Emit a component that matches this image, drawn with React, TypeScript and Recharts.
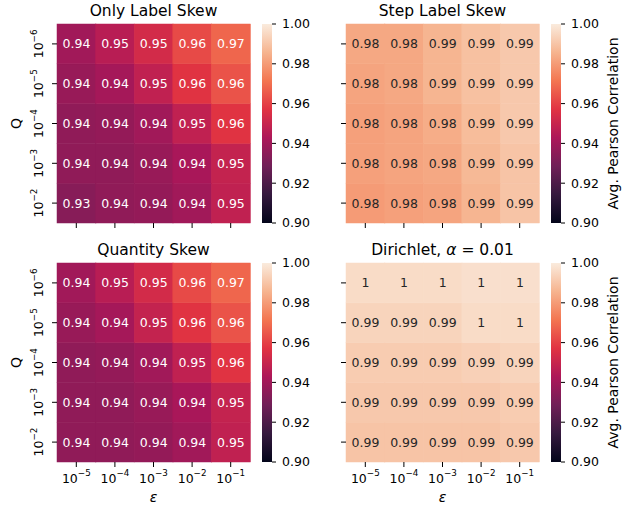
import { BarChart, Bar, XAxis, YAxis } from 'recharts'

// exponents of the axis ticks
const qExps = [-6, -5, -4, -3, -2]
const epsExps = [-5, -4, -3, -2, -1]
const cbTicks = [0.9, 0.92, 0.94, 0.96, 0.98, 1.0]

// rows: Q = 1e-6 ... 1e-2, cols: eps = 1e-5 ... 1e-1
const onlyLabelSkew = [
  [0.94, 0.946, 0.953, 0.962, 0.968],
  [0.938, 0.941, 0.948, 0.957, 0.964],
  [0.936, 0.937, 0.94, 0.948, 0.957],
  [0.936, 0.936, 0.938, 0.942, 0.949],
  [0.934, 0.936, 0.937, 0.94, 0.948],
]
const stepLabelSkew = [
  [0.983, 0.983, 0.986, 0.989, 0.991],
  [0.982, 0.983, 0.986, 0.989, 0.991],
  [0.981, 0.982, 0.984, 0.988, 0.991],
  [0.981, 0.982, 0.983, 0.987, 0.99],
  [0.98, 0.981, 0.982, 0.986, 0.99],
]
const quantitySkew = [
  [0.94, 0.946, 0.953, 0.962, 0.968],
  [0.938, 0.941, 0.949, 0.957, 0.964],
  [0.936, 0.937, 0.94, 0.948, 0.957],
  [0.936, 0.936, 0.938, 0.942, 0.949],
  [0.936, 0.936, 0.937, 0.94, 0.948],
]
const dirichlet = [
  [0.996, 0.996, 0.996, 0.997, 0.997],
  [0.994, 0.994, 0.994, 0.996, 0.996],
  [0.992, 0.992, 0.992, 0.993, 0.994],
  [0.991, 0.991, 0.991, 0.991, 0.992],
  [0.99, 0.99, 0.99, 0.99, 0.991],
]

const VMIN = 0.9
const VMAX = 1.0
const FONT = 'DejaVu Sans'

// seaborn "rocket" approximated by a few stops
const rocketStops: [number, number, number][] = [
  [3, 5, 26],
  [53, 25, 62],
  [112, 31, 87],
  [173, 23, 89],
  [225, 51, 66],
  [243, 118, 81],
  [246, 180, 143],
  [250, 235, 221],
]

function rocketRgb(v: number) {
  let t = (v - VMIN) / (VMAX - VMIN)
  t = Math.max(0, Math.min(1, t))
  const n = rocketStops.length - 1
  const i = Math.min(n - 1, Math.floor(t * n))
  const f = t * n - i
  const a = rocketStops[i]
  const b = rocketStops[i + 1]
  return [0, 1, 2].map((k) => Math.round(a[k] + (b[k] - a[k]) * f))
}

const toHex = (c: number[]) => '#' + c.map((x) => x.toString(16).padStart(2, '0')).join('')

function luminance(c: number[]) {
  const l = c.map((x) => {
    const s = x / 255
    return s <= 0.03928 ? s / 12.92 : Math.pow((s + 0.055) / 1.055, 2.4)
  })
  return 0.2126 * l[0] + 0.7152 * l[1] + 0.0722 * l[2]
}

const fmt = (v: number) => String(parseFloat(v.toPrecision(2)))

const Pow = ({ exp }: { exp: number }) => (
  <>
    <tspan>10</tspan>
    <tspan dy={-6.5} fontSize={8.75}>{'\u2212' + Math.abs(exp)}</tspan>
  </>
)

function Heatmap({
  values,
  left,
  top,
  showX,
  showY,
}: {
  values: number[][]
  left: number
  top: number
  showX: boolean
  showY: boolean
}) {
  const data = epsExps.map((e) => {
    const row: Record<string, number | string> = { eps: String(e) }
    values.forEach((_, k) => (row['r' + k] = 1))
    return row
  })
  const xHeight = showX ? 40 : 17
  return (
    <div style={{ position: 'absolute', left: left - 57, top: top - 24 }}>
      <BarChart
        width={260}
        height={24 + 199 + xHeight}
        data={data}
        margin={{ top: 24, right: 10, bottom: 0, left: 0 }}
        barCategoryGap={0}
        barGap={0}
      >
        <XAxis
          dataKey="eps"
          height={xHeight}
          axisLine={false}
          tickSize={5}
          tickMargin={0}
          tickLine={{ stroke: '#000', strokeWidth: 1 }}
          interval={0}
          tick={(p: any) =>
            showX ? (
              <text
                x={p.x}
                y={p.y + 15.7}
                textAnchor="middle"
                fontSize={12.5}
                fontFamily={FONT}
                fill="#000"
              >
                <Pow exp={Number(p.payload.value)} />
              </text>
            ) : (
              <g />
            )
          }
        />
        <YAxis
          type="number"
          domain={[0, 5]}
          ticks={[0.5, 1.5, 2.5, 3.5, 4.5]}
          interval={0}
          width={57}
          axisLine={false}
          tickSize={5}
          tickMargin={0}
          tickLine={{ stroke: '#000', strokeWidth: 1 }}
          tick={(p: any) =>
            showY ? (
              <g transform={`translate(${p.x - 9},${p.y}) rotate(-90)`}>
                <text x={0} y={0} textAnchor="middle" fontSize={12.5} fontFamily={FONT} fill="#000">
                  <Pow exp={qExps[4 - Math.floor(Number(p.payload.value))]} />
                </text>
              </g>
            ) : (
              <g />
            )
          }
        />
        {values.map((_, k) => {
          // first bar of the stack is the bottom row (Q = 1e-2)
          const row = values[values.length - 1 - k]
          return (
            <Bar
              key={k}
              dataKey={'r' + k}
              stackId="h"
              isAnimationActive={false}
              shape={(p: any) => {
                const v = row[p.index]
                const rgb = rocketRgb(v)
                const fill = toHex(rgb)
                return (
                  <g>
                    <rect x={p.x} y={p.y} width={p.width} height={p.height} fill={fill} stroke={fill} strokeWidth={0.5} />
                    <text
                      x={p.x + p.width / 2}
                      y={p.y + p.height / 2}
                      dy="0.36em"
                      textAnchor="middle"
                      fontSize={12.5}
                      fontFamily={FONT}
                      fill={luminance(rgb) > 0.408 ? '#262626' : '#ffffff'}
                    >
                      {fmt(v)}
                    </text>
                  </g>
                )
              }}
            />
          )
        })}
      </BarChart>
    </div>
  )
}

function Colorbar({ left, top, id }: { left: number; top: number; id: string }) {
  return (
    <div style={{ position: 'absolute', left, top: top - 24 }}>
      <BarChart
        width={60}
        height={240}
        data={[{ name: 'cb', range: [VMIN, VMAX] }]}
        margin={{ top: 24, right: 0, bottom: 17, left: 0 }}
        barCategoryGap={0}
      >
        <defs>
          <linearGradient id={id} x1="0" y1="1" x2="0" y2="0">
            {rocketStops.map((c, i) => (
              <stop key={i} offset={i / (rocketStops.length - 1)} stopColor={toHex(c)} />
            ))}
          </linearGradient>
        </defs>
        <XAxis dataKey="name" hide />
        <YAxis
          orientation="right"
          type="number"
          domain={[VMIN, VMAX]}
          ticks={cbTicks}
          interval={0}
          width={50}
          axisLine={false}
          tickSize={4}
          tickMargin={6}
          tickLine={{ stroke: '#000', strokeWidth: 1 }}
          tickFormatter={(v: number) => v.toFixed(2)}
          tick={{ fontSize: 12.5, fontFamily: FONT, fill: '#000' }}
        />
        <Bar dataKey="range" fill={`url(#${id})`} isAnimationActive={false} />
      </BarChart>
    </div>
  )
}

const titleStyle = { fontSize: 15.5, fontFamily: FONT, fill: '#000' }
const labelStyle = { fontSize: 14, fontFamily: FONT, fill: '#000' }

export default function App() {
  return (
    <div
      style={{
        position: 'absolute',
        left: 0,
        top: 0,
        width: 629,
        height: 508,
        background: '#fff',
        overflow: 'hidden',
      }}
    >
      <Heatmap values={onlyLabelSkew} left={57} top={24} showX={false} showY />
      <Heatmap values={stepLabelSkew} left={346} top={24} showX={false} showY={false} />
      <Heatmap values={quantitySkew} left={57} top={263} showX showY />
      <Heatmap values={dirichlet} left={346} top={263} showX showY={false} />
      <Colorbar left={262} top={24} id="cb1" />
      <Colorbar left={551} top={24} id="cb2" />
      <Colorbar left={262} top={263} id="cb3" />
      <Colorbar left={551} top={263} id="cb4" />
      <svg
        width={629}
        height={508}
        style={{ position: 'absolute', left: 0, top: 0, pointerEvents: 'none' }}
      >
        <text x={153.5} y={16} textAnchor="middle" {...titleStyle}>Only Label Skew</text>
        <text x={442.5} y={16} textAnchor="middle" {...titleStyle}>Step Label Skew</text>
        <text x={153.5} y={255} textAnchor="middle" {...titleStyle}>Quantity Skew</text>
        <text x={442.5} y={255} textAnchor="middle" {...titleStyle}>
          Dirichlet, <tspan fontStyle="italic">α</tspan> = 0.01
        </text>
        <text transform="translate(21,123.5) rotate(-90)" textAnchor="middle" {...labelStyle}>Q</text>
        <text transform="translate(21,362.5) rotate(-90)" textAnchor="middle" {...labelStyle}>Q</text>
        <text x={153.5} y={502} textAnchor="middle" fontStyle="italic" {...labelStyle}>ε</text>
        <text x={442.5} y={502} textAnchor="middle" fontStyle="italic" {...labelStyle}>ε</text>
        <text transform="translate(618,123.5) rotate(-90)" textAnchor="middle" {...labelStyle}>
          Avg. Pearson Correlation
        </text>
        <text transform="translate(618,362.5) rotate(-90)" textAnchor="middle" {...labelStyle}>
          Avg. Pearson Correlation
        </text>
      </svg>
    </div>
  )
}
